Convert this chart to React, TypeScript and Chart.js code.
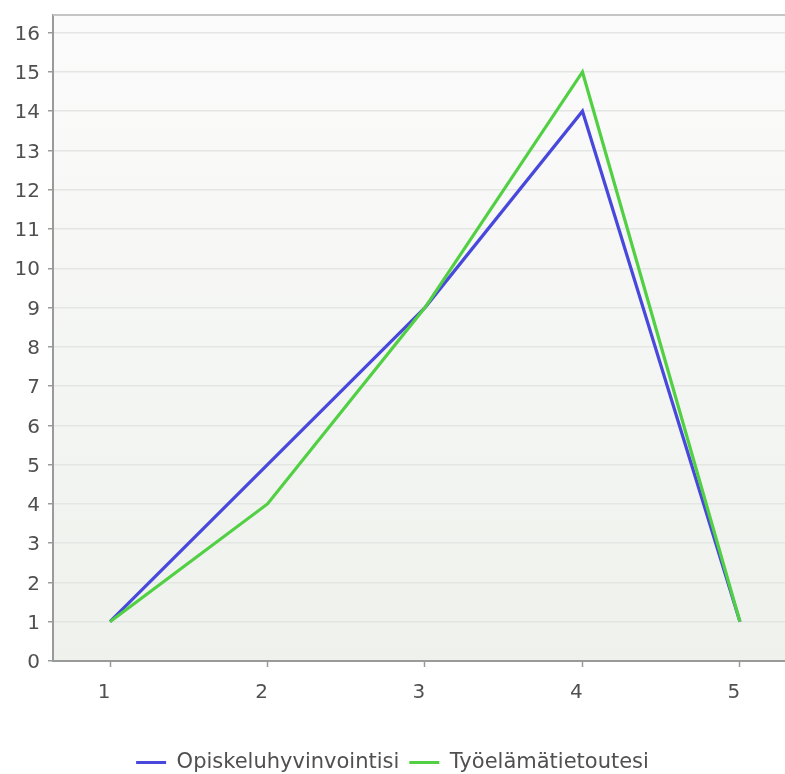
import React, { useEffect, useRef } from "react";
import { Chart, registerables } from "chart.js";

Chart.register(...registerables);

const categories = [1, 2, 3, 4, 5];
const seriesNames = ["Opiskeluhyvinvointisi", "Työelämätietoutesi"];
const opiskeluValues = [1, 5, 9, 14, 1];
const tyoelamaValues = [1, 4, 9, 15, 1];
const yTicks = [0, 1, 2, 3, 4, 5, 6, 7, 8, 9, 10, 11, 12, 13, 14, 15, 16];

const W = 785;
const H = 774;

const bgPlugin = {
  id: "bgPlugin",
  beforeDraw(chart: any) {
    const { ctx, chartArea } = chart;
    if (!chartArea) return;
    const { left, top, right, bottom } = chartArea;
    ctx.save();
    const g = ctx.createLinearGradient(0, top, 0, bottom);
    g.addColorStop(0, "#fbfbfb");
    g.addColorStop(1, "#eef1ec");
    ctx.fillStyle = g;
    ctx.fillRect(left, top, right - left, bottom - top);
    ctx.restore();
  },
  afterDraw(chart: any) {
    const { ctx, chartArea } = chart;
    if (!chartArea) return;
    ctx.save();
    ctx.strokeStyle = "#c4c4c4";
    ctx.lineWidth = 2;
    ctx.beginPath();
    ctx.moveTo(chartArea.left, chartArea.top);
    ctx.lineTo(chartArea.right, chartArea.top);
    ctx.stroke();
    ctx.restore();
  },
};

export default function App() {
  const ref = useRef<HTMLCanvasElement | null>(null);

  useEffect(() => {
    if (!ref.current) return;
    const fontFamily = "'DejaVu Sans', sans-serif";
    const chart = new Chart(ref.current, {
      type: "line",
      data: {
        datasets: [
          {
            label: seriesNames[0],
            data: categories.map((c, i) => ({ x: c, y: opiskeluValues[i] })),
            borderColor: "#4848dc",
            backgroundColor: "#4848dc",
            borderWidth: 3.2,
            pointRadius: 0,
            tension: 0,
            order: 1,
          },
          {
            label: seriesNames[1],
            data: categories.map((c, i) => ({ x: c, y: tyoelamaValues[i] })),
            borderColor: "#52d043",
            backgroundColor: "#52d043",
            borderWidth: 3.2,
            pointRadius: 0,
            tension: 0,
            order: 0,
          },
        ],
      },
      options: {
        animation: false,
        responsive: false,
        devicePixelRatio: 1,
        layout: { padding: { top: 15, left: 0, right: 0, bottom: -9 } },
        plugins: {
          tooltip: { enabled: false },
          legend: {
            position: "bottom",
            labels: {
              font: { family: fontFamily, size: 21 },
              color: "#505050",
              boxWidth: 30,
              boxHeight: 3,
              padding: 10,
              sort: (a: any, b: any) => a.datasetIndex - b.datasetIndex,
              generateLabels: (c: any) => {
                const items = Chart.defaults.plugins.legend.labels.generateLabels(c);
                items.forEach((it: any) => {
                  it.lineWidth = 0;
                  it.strokeStyle = "rgba(0,0,0,0)";
                });
                return items;
              },
            },
          },
        },
        scales: {
          x: {
            type: "linear",
            min: 0.638,
            max: 5.286,
            afterBuildTicks: (s: any) => {
              s.ticks = categories.map((v) => ({ value: v }));
            },
            afterFit: (s: any) => {
              s.height = 81;
              s.paddingLeft = 0;
              s.paddingRight = 0;
            },
            grid: {
              drawOnChartArea: false,
              drawTicks: true,
              tickLength: 6,
              tickColor: "#9a9a9a",
              tickWidth: 1.5,
            },
            border: { color: "#9a9a9a", width: 2 },
            ticks: {
              font: { family: fontFamily, size: 20 },
              color: "#505050",
              padding: 14,
              labelOffset: -6,
              maxRotation: 0,
            },
          },
          y: {
            type: "linear",
            min: 0,
            max: 16.45,
            afterBuildTicks: (s: any) => {
              s.ticks = yTicks.map((v) => ({ value: v }));
            },
            afterFit: (s: any) => {
              s.width = 53;
              s.paddingTop = 0;
              s.paddingBottom = 0;
            },
            grid: {
              color: "#e4e6e3",
              lineWidth: 1.5,
              drawTicks: true,
              tickLength: 5,
              tickColor: "#9a9a9a",
              tickWidth: 1.5,
            },
            border: { color: "#9a9a9a", width: 2 },
            ticks: {
              font: { family: fontFamily, size: 20 },
              color: "#505050",
              padding: 8,
              labelOffset: 2,
            },
          },
        },
      },
      plugins: [bgPlugin],
    } as any);
    return () => chart.destroy();
  }, []);

  return (
    <div style={{ position: "absolute", left: 0, top: 0, width: W, height: H, background: "#ffffff" }}>
      <canvas ref={ref} width={W} height={H} style={{ width: W, height: H, display: "block" }} />
    </div>
  );
}
